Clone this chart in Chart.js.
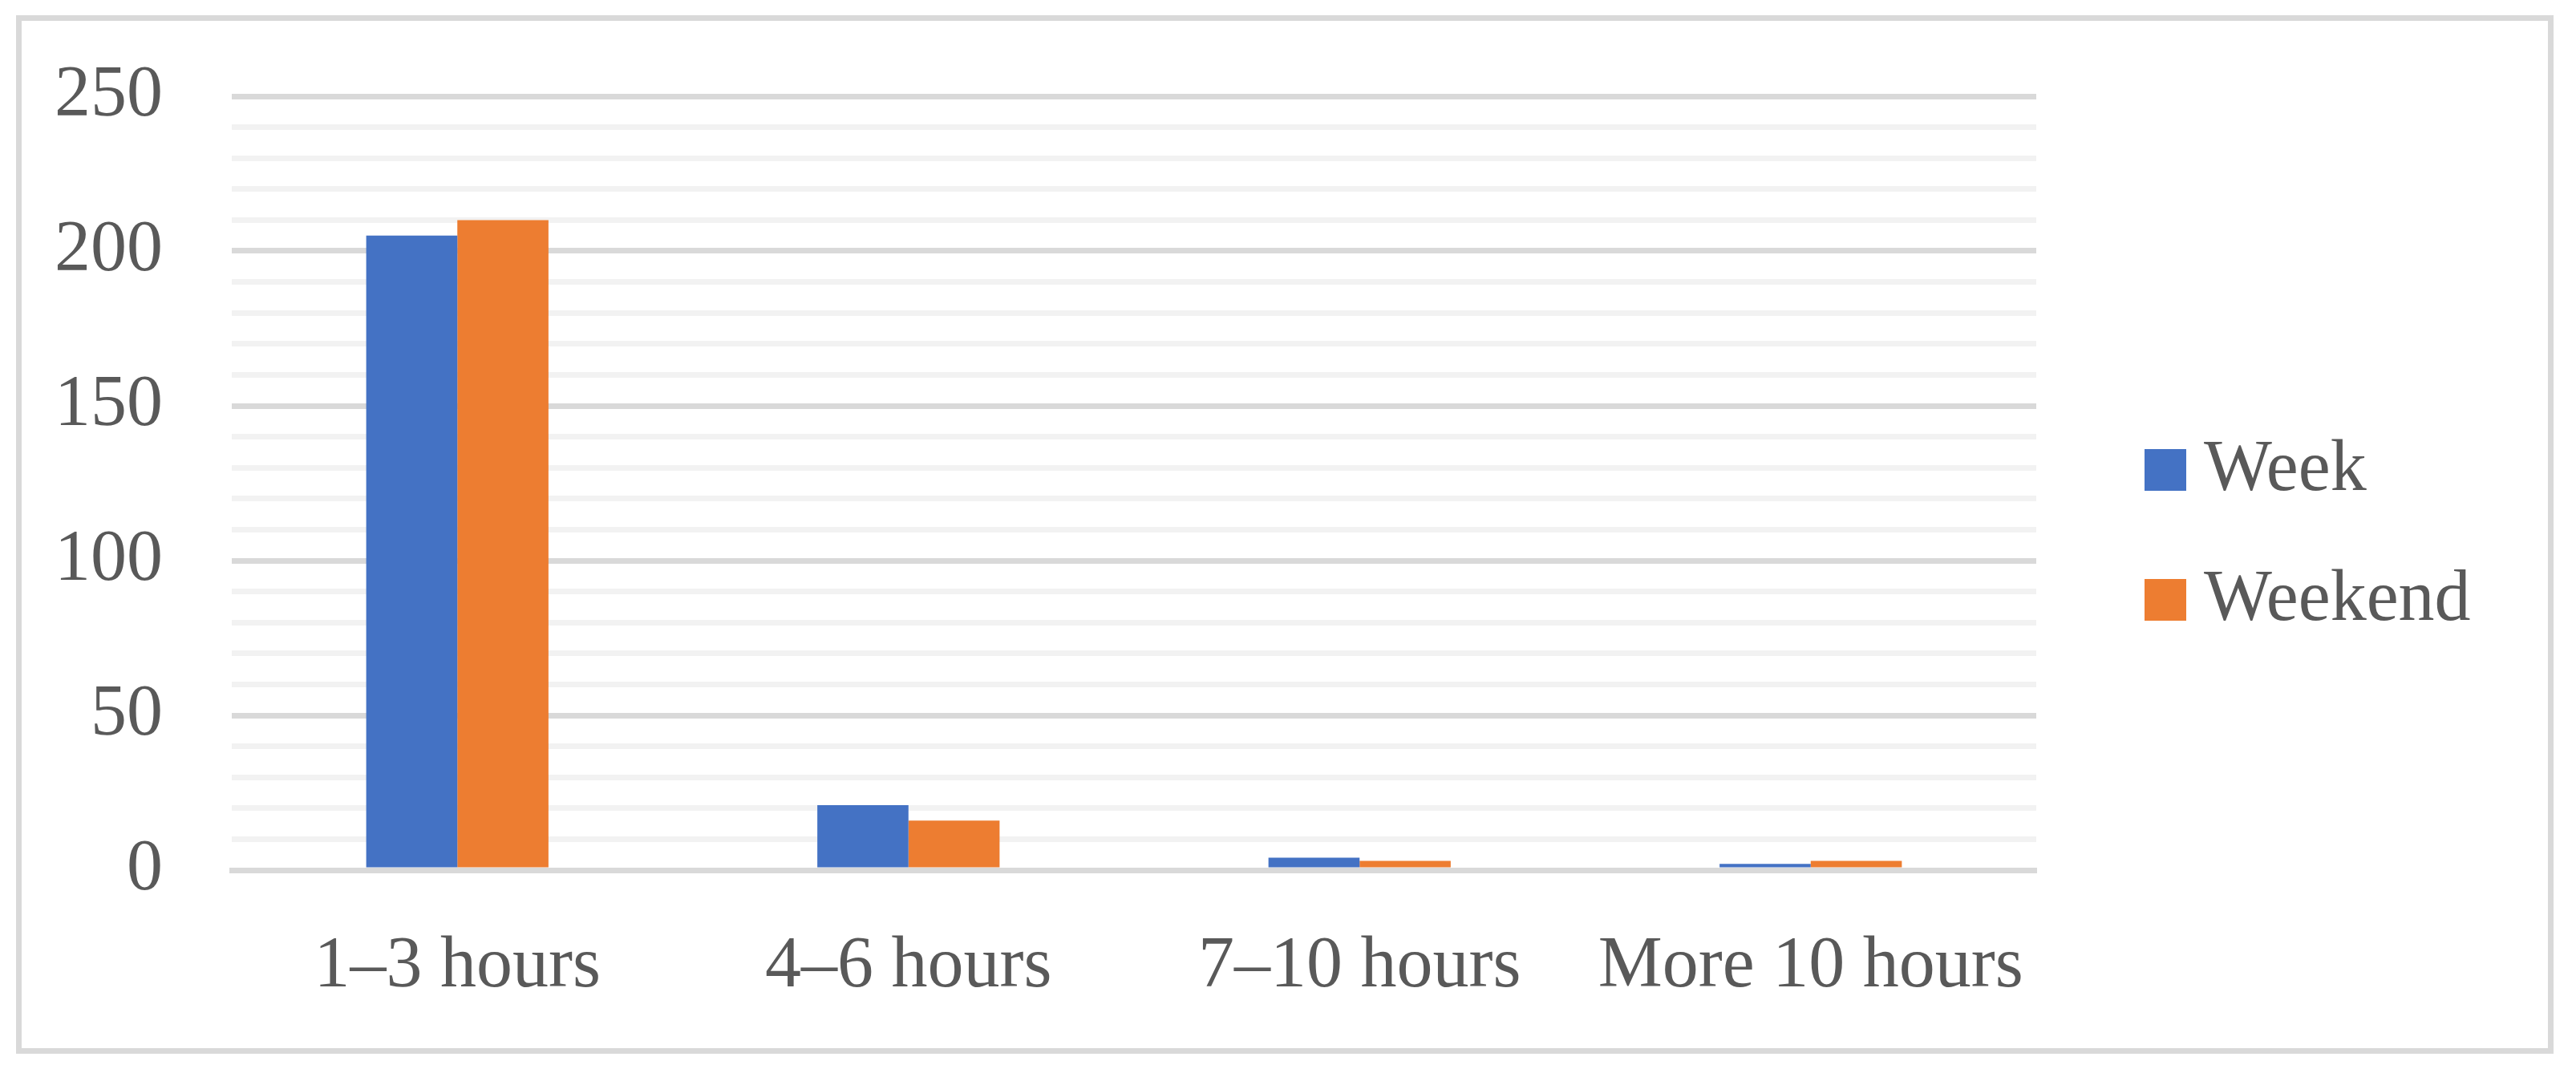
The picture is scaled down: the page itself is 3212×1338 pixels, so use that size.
<!DOCTYPE html>
<html>
<head>
<meta charset="utf-8">
<script src="https://cdn.jsdelivr.net/npm/chart.js@4.4.1/dist/chart.umd.min.js"></script>
<style>
  html, body { margin: 0; padding: 0; background: #fff; }
  #wrap { width: 3212px; height: 1338px; }
</style>
</head>
<body>
<div id="wrap"><canvas id="chart1" width="3212" height="1338"></canvas></div>
<script>
// Dados do gráfico
const categories = ['1–3 hours', '4–6 hours', '7–10 hours', 'More 10 hours'];
const seriesNames = ['Week', 'Weekend'];
const weekValues = [205, 21, 4, 2];
const weekendValues = [210, 16, 3, 3];
const yTicks = [0, 50, 100, 150, 200, 250];

const FONT = "'Palatino Linotype', 'Book Antiqua', Palatino, 'Liberation Serif', serif";
const TEXT = '#595959';
const colors = ['#4472c4', '#ed7d31'];

// Moldura + legenda desenhadas à mão (a legenda nativa não deixa esse espaçamento)
const framePlugin = {
    id: 'frame',
    beforeDraw(chart) {
        const ctx = chart.ctx;
        ctx.save();
        ctx.fillStyle = '#fff';
        ctx.fillRect(0, 0, chart.width, chart.height);
        ctx.strokeStyle = '#d9d9d9';
        ctx.lineWidth = 7;
        ctx.strokeRect(23.5, 22.5, 3157, 1288);
        ctx.restore();
    },
    afterDraw(chart) {
        const ctx = chart.ctx;
        const x0 = chart.chartArea.right + 135;
        ctx.save();
        ctx.font = '90px ' + FONT;
        ctx.textBaseline = 'alphabetic';
        chart.data.datasets.forEach(function (ds, i) {
            const top = 560 + i * 162;
            ctx.fillStyle = ds.backgroundColor;
            ctx.fillRect(x0, top, 52, 52);
            ctx.fillStyle = TEXT;
            ctx.fillText(ds.label, x0 + 74, top + 51);
        });
        ctx.restore();
    }
};

new Chart(document.getElementById('chart1'), {
    type: 'bar',
    data: {
        labels: categories,
        datasets: [{
            label: seriesNames[0],
            data: weekValues,
            backgroundColor: colors[0],
        }, {
            label: seriesNames[1],
            data: weekendValues,
            backgroundColor: colors[1],
        }],
    },
    options: {
        responsive: false,
        animation: false,
        layout: {
            padding: { left: 0, top: 120, right: 673, bottom: 0 }
        },
        datasets: {
            bar: { categoryPercentage: 0.404, barPercentage: 1.0 }
        },
        plugins: {
            legend: { display: false },
            tooltip: { enabled: false }
        },
        scales: {
            x: {
                grid: { display: false, drawTicks: false },
                border: { display: true, color: '#d9d9d9', width: 7, z: 1 },
                ticks: {
                    color: TEXT,
                    font: { family: FONT, size: 90 },
                    padding: 67,
                    maxRotation: 0,
                    autoSkip: false
                },
                afterFit: function (scale) { scale.height = 1338 - 1085; }
            },
            y: {
                min: 0,
                max: yTicks[yTicks.length - 1],
                grid: {
                    drawTicks: false,
                    lineWidth: 7,
                    color: function (c) {
                        return yTicks.includes(c.tick.value) ? '#d9d9d9' : '#f2f2f2';
                    }
                },
                border: { display: false },
                ticks: {
                    stepSize: 10,
                    autoSkip: false,
                    color: TEXT,
                    // lineHeight baixo: senão o padding do rótulo empurra o topo do gráfico
                    font: { family: FONT, size: 90, lineHeight: 0.7 },
                    padding: 86,
                    callback: function (v) { return yTicks.includes(v) ? v : ''; }
                },
                afterFit: function (scale) { scale.width = 289; }
            }
        }
    },
    plugins: [framePlugin]
});
</script>
</body>
</html>
